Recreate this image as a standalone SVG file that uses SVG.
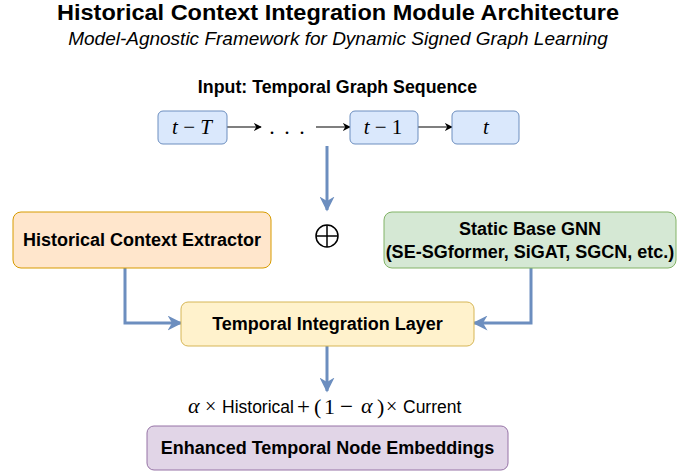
<svg xmlns="http://www.w3.org/2000/svg" width="694" height="474" viewBox="0 0 694 474">
<defs>
<style>
.sans{font-family:"Liberation Sans",Arial,sans-serif}
.b{font-weight:bold}
.math{font-family:"Liberation Serif","DejaVu Serif",serif}
.mi{font-style:italic}
.blue{fill:#dae8fc;stroke:#6c8ebf;stroke-width:1}
.conn{fill:none;stroke:#6c8ebf;stroke-width:3}
.thin{fill:none;stroke:#000;stroke-width:1.2}
.lbl{font-family:"Liberation Sans",Arial,sans-serif;font-weight:bold;font-size:18px;text-anchor:middle}
</style>
<marker id="ab" viewBox="0 0 10 10" refX="9" refY="5" markerWidth="8" markerHeight="8" markerUnits="userSpaceOnUse" orient="auto">
<path d="M0,0 L10,5 L0,10 L3,5 Z" fill="#000"/>
</marker>
<marker id="bb" viewBox="0 0 10 10" refX="9" refY="5" markerWidth="5" markerHeight="5" orient="auto">
<path d="M0,0 L10,5 L0,10 L3,5 Z" fill="#6c8ebf"/>
</marker>
</defs>
<rect width="694" height="474" fill="#fff"/>
<text class="sans b" x="57" y="20" font-size="22" textLength="562" lengthAdjust="spacingAndGlyphs">Historical Context Integration Module Architecture</text>
<text class="sans" x="338" y="45" font-size="19" font-style="italic" text-anchor="middle">Model-Agnostic Framework for Dynamic Signed Graph Learning</text>
<text class="sans b" x="337.5" y="93" font-size="17.8" text-anchor="middle">Input: Temporal Graph Sequence</text>

<g id="connectors">
<line class="thin" x1="227" y1="127" x2="261" y2="127" marker-end="url(#ab)"/>
<line class="thin" x1="316" y1="127" x2="350" y2="127" marker-end="url(#ab)"/>
<line class="thin" x1="418" y1="127" x2="452" y2="127" marker-end="url(#ab)"/>
<path class="conn" d="M327,146 L327,210" marker-end="url(#bb)"/>
<path class="conn" d="M125,268 L125,323 L181,323" marker-end="url(#bb)"/>
<path class="conn" d="M531,268 L531,323 L474,323" marker-end="url(#bb)"/>
<path class="conn" d="M327,346 L327,391" marker-end="url(#bb)"/>
</g>

<g id="node-tT">
<rect class="blue" x="158" y="111" width="69" height="33" rx="5"/>
<text class="math" x="192" y="134" font-size="21" text-anchor="middle"><tspan class="mi">t</tspan> − <tspan class="mi">T</tspan></text>
</g>
<g id="dots">
<text class="math" x="288" y="134" font-size="22" text-anchor="middle" letter-spacing="2">. . .</text>
</g>
<g id="node-t1">
<rect class="blue" x="350" y="111" width="68" height="33" rx="5"/>
<text class="math" x="383" y="134" font-size="21" text-anchor="middle"><tspan class="mi">t</tspan> − 1</text>
</g>
<g id="node-t">
<rect class="blue" x="452" y="111" width="67" height="33" rx="5"/>
<text class="math mi" x="486" y="134" font-size="21" text-anchor="middle">t</text>
</g>

<g id="oplus">
<circle cx="327" cy="236" r="11" fill="none" stroke="#000" stroke-width="1.5"/>
<line x1="316" y1="236" x2="338" y2="236" stroke="#000" stroke-width="1.5"/>
<line x1="327" y1="225" x2="327" y2="247" stroke="#000" stroke-width="1.5"/>
</g>

<g id="node-hce">
<rect x="13" y="212" width="258" height="56" rx="8" fill="#ffe6cc" stroke="#d79b00"/>
<text class="lbl" x="142" y="246">Historical Context Extractor</text>
</g>
<g id="node-gnn">
<rect x="384" y="212" width="292" height="56" rx="8" fill="#d5e8d4" stroke="#82b366"/>
<text class="lbl" x="530" y="235">Static Base GNN</text>
<text class="lbl" x="530" y="258">(SE-SGformer, SiGAT, SGCN, etc.)</text>
</g>
<g id="node-til">
<rect x="181" y="302" width="293" height="44" rx="7" fill="#fff2cc" stroke="#d6b656"/>
<text class="lbl" x="327.5" y="330">Temporal Integration Layer</text>
</g>
<g id="formula">
<text class="math mi" x="188" y="413" font-size="22">α</text>
<text class="math" x="205" y="413" font-size="20">×</text>
<text class="sans" x="222" y="413" font-size="17.5">Historical</text>
<text class="math" x="297" y="414" font-size="23">+</text>
<text class="math" x="314" y="414" font-size="22">(</text>
<text class="math" x="324" y="414" font-size="22">1</text>
<text class="math" x="340" y="414" font-size="23">−</text>
<text class="math mi" x="361" y="413" font-size="22">α</text>
<text class="math" x="377" y="414" font-size="22">)</text>
<text class="math" x="386" y="413" font-size="20">×</text>
<text class="sans" x="403" y="413" font-size="17.5">Current</text>
</g>
<g id="node-out">
<rect x="147" y="426" width="361" height="44" rx="7" fill="#e1d5e7" stroke="#9673a6"/>
<text class="lbl" x="327.5" y="454">Enhanced Temporal Node Embeddings</text>
</g>
</svg>
